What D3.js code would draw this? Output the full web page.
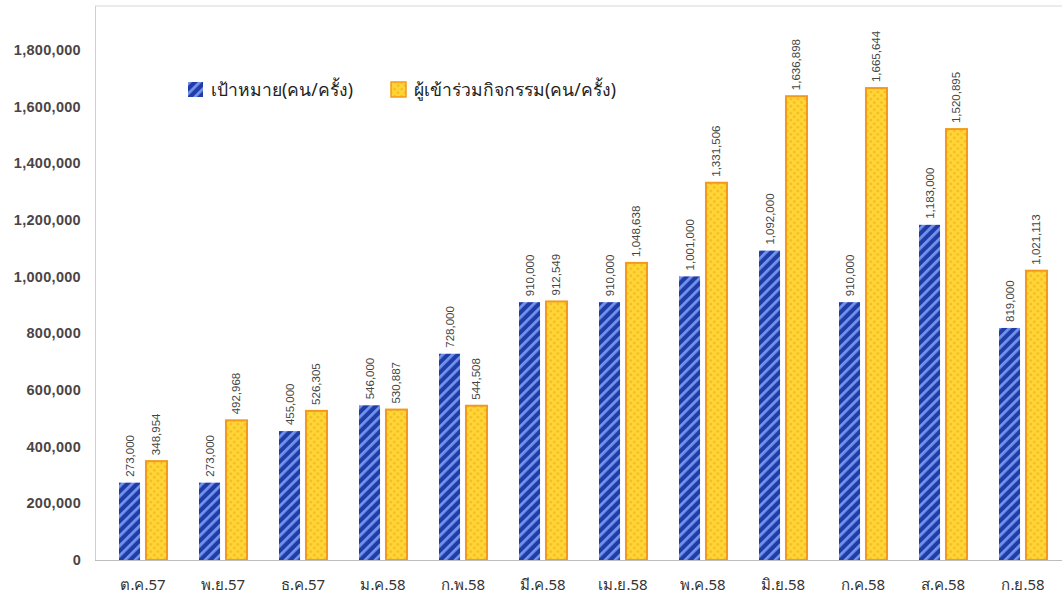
<!DOCTYPE html>
<html>
<head>
<meta charset="utf-8">
<title>chart</title>
<script src="https://cdn.jsdelivr.net/npm/d3@7"></script>
<style>
  body { margin: 0; background: #fff; }
  svg { display: block; }
</style>
</head>
<body>
<svg id="chart" width="1062" height="598"></svg>
<script>
// months (Thai fiscal year 2558)
var months = ["ต.ค.57", "พ.ย.57", "ธ.ค.57", "ม.ค.58", "ก.พ.58", "มี.ค.58",
              "เม.ย.58", "พ.ค.58", "มิ.ย.58", "ก.ค.58", "ส.ค.58", "ก.ย.58"];

var seriesNames = ["เป้าหมาย(คน/ครั้ง)", "ผู้เข้าร่วมกิจกรรม(คน/ครั้ง)"];

var target = [273000, 273000, 455000, 546000, 728000, 910000,
              910000, 1001000, 1092000, 910000, 1183000, 819000];

var actual = [348954, 492968, 526305, 530887, 544508, 912549,
              1048638, 1331506, 1636898, 1665644, 1520895, 1021113];

var yTicks = [0, 200000, 400000, 600000, 800000, 1000000, 1200000, 1400000, 1600000, 1800000];

var svg = d3.select("#chart");
var fmt = d3.format(",");

// patterns
var defs = svg.append("defs");

var blue = defs.append("pattern")
    .attr("id", "bluePat")
    .attr("patternUnits", "userSpaceOnUse")
    .attr("width", 7).attr("height", 7)
    .attr("patternTransform", "rotate(45)");
blue.append("rect").attr("width", 7).attr("height", 7).attr("fill", "#1f3ca8");
blue.append("rect").attr("x", 0).attr("width", 2.8).attr("height", 7).attr("fill", "#7394ec");

var orange = defs.append("pattern")
    .attr("id", "orangePat")
    .attr("patternUnits", "userSpaceOnUse")
    .attr("width", 5).attr("height", 5)
    .attr("patternTransform", "rotate(45)");
orange.append("rect").attr("width", 5).attr("height", 5).attr("fill", "#ffd633");
orange.append("circle").attr("cx", 2.5).attr("cy", 2.5).attr("r", 1.3).attr("fill", "#f6b42a");

var fills = ["url(#bluePat)", "url(#orangePat)"];

// scales
var y = d3.scaleLinear().domain([0, 1800000]).range([560, 50]);

var x0 = d3.scaleBand()
    .domain(months)
    .range([103, 1063])
    .paddingInner(0.4)
    .paddingOuter(0.2);

var x1 = d3.scaleBand()
    .domain([0, 1])
    .range([0, x0.bandwidth()])
    .paddingInner(0.22);

// frame
svg.append("line")
    .attr("x1", 95).attr("x2", 1062).attr("y1", 6).attr("y2", 6)
    .attr("stroke", "#d8d8d8");
svg.append("line")
    .attr("x1", 95.5).attr("x2", 95.5).attr("y1", 6).attr("y2", 560)
    .attr("stroke", "#d0d0d0");

// y axis
var yAxis = d3.axisLeft(y)
    .tickValues(yTicks)
    .tickFormat(fmt)
    .tickSize(0)
    .tickPadding(0);

svg.append("g")
    .attr("transform", "translate(81,0)")
    .call(yAxis)
    .call(function(g) { g.select(".domain").remove(); })
    .selectAll("text")
    .attr("font-family", "Liberation Sans, Arial, sans-serif")
    .attr("font-size", 14.5)
    .attr("font-weight", "bold")
    .attr("letter-spacing", 0.3)
    .attr("fill", "#4b4446");

// bars
var rows = months.map(function(m, i) {
  return { month: m, values: [target[i], actual[i]] };
});

var groups = svg.append("g").selectAll("g")
    .data(rows)
    .enter().append("g")
    .attr("transform", function(d) { return "translate(" + x0(d.month) + ",0)"; });

groups.selectAll("rect")
    .data(function(d) { return d.values.map(function(v, k) { return { k: k, v: v }; }); })
    .enter().append("rect")
    .attr("x", function(d) { return x1(d.k); })
    .attr("y", function(d) { return y(d.v); })
    .attr("width", x1.bandwidth())
    .attr("height", function(d) { return y(0) - y(d.v); })
    .attr("fill", function(d) { return fills[d.k]; })
    .attr("stroke", function(d) { return d.k ? "#f39a1a" : "none"; })
    .attr("stroke-width", 2);

groups.selectAll("text")
    .data(function(d) { return d.values.map(function(v, k) { return { k: k, v: v }; }); })
    .enter().append("text")
    .attr("transform", function(d) {
      return "translate(" + (x1(d.k) + x1.bandwidth() / 2 + 4) + "," + (y(d.v) - 6) + ") rotate(-90)";
    })
    .attr("font-family", "Liberation Sans, Arial, sans-serif")
    .attr("font-size", 11.5)
    .attr("fill", "#444")
    .text(function(d) { return fmt(d.v); });

// x axis
var xAxis = d3.axisBottom(x0).tickSize(0).tickPadding(0);
var gx = svg.append("g")
    .attr("transform", "translate(0,560)")
    .call(xAxis);
gx.select(".domain")
    .attr("d", "M95,0.5H1062")
    .attr("stroke", "#bdbdbd");
gx.selectAll("text")
    .attr("dy", 0)
    .attr("y", 30)
    .attr("font-family", "Noto Sans, sans-serif")
    .attr("font-size", 15)
    .attr("fill", "#333");

// legend
var legendX = [188, 391];
var legend = svg.append("g").selectAll("g")
    .data(seriesNames)
    .enter().append("g")
    .attr("transform", function(d, i) { return "translate(" + legendX[i] + ",82)"; });

legend.append("rect")
    .attr("width", 15).attr("height", 15)
    .attr("fill", function(d, i) { return fills[i]; })
    .attr("stroke", function(d, i) { return i ? "#f39a1a" : "none"; })
    .attr("stroke-width", 1.5);

legend.append("text")
    .attr("x", 23).attr("y", 14)
    .attr("font-family", "Noto Sans, sans-serif")
    .attr("font-size", 17.5)
    .attr("fill", "#222")
    .text(function(d) { return d; });
</script>
</body>
</html>
